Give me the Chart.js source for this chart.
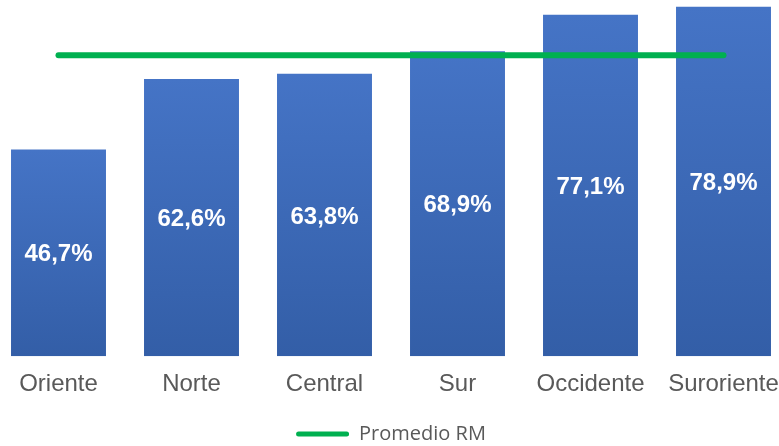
<!DOCTYPE html>
<html>
<head>
<meta charset="utf-8">
<script src="https://cdn.jsdelivr.net/npm/chart.js@4"></script>
<style>
  html, body { margin: 0; padding: 0; background: #fff; overflow: hidden; }
  #wrap { position: absolute; left: -8px; top: 0; width: 798px; height: 456px; }
</style>
</head>
<body>
<div id="wrap"><canvas id="my-chart"></canvas></div>
<script>
'use strict';

// ******** DATA *******
let zonas = ['Oriente', 'Norte', 'Central', 'Sur', 'Occidente', 'Suroriente'];
let porcentajes = [46.7, 62.6, 63.8, 68.9, 77.1, 78.9];
let promedioRM = [68.0, 68.0, 68.0, 68.0, 68.0, 68.0];

let ctx = document.getElementById('my-chart');

// gradient for each bar, lighter on top
function barGradient(context) {
  let chart = context.chart;
  if (!chart.chartArea) return '#4472C4';
  let y = chart.scales.y;
  let top = y.getPixelForValue(context.raw);
  let bottom = y.getPixelForValue(0);
  let g = chart.ctx.createLinearGradient(0, top, 0, bottom);
  g.addColorStop(0, '#4574C6');
  g.addColorStop(1, '#335EA7');
  return g;
}

// white labels in the middle of each bar
let barLabels = {
  id: 'barLabels',
  afterDatasetsDraw(chart) {
    let meta = chart.getDatasetMeta(1);
    let c = chart.ctx;
    c.save();
    c.fillStyle = '#ffffff';
    c.font = 'bold 24px "Liberation Sans", Arial, sans-serif';
    c.textAlign = 'center';
    c.textBaseline = 'middle';
    meta.data.forEach(function (bar, i) {
      let txt = porcentajes[i].toFixed(1).replace('.', ',') + '%';
      c.fillText(txt, bar.x, (bar.y + bar.base) / 2 + 2);
    });
    c.restore();
  }
};

let chartObject = {
  type: 'bar',
  data: {
    labels: zonas,
    datasets: [{
      type: 'line',
      label: 'Promedio RM',
      data: promedioRM,
      borderColor: '#00B050',
      backgroundColor: '#00B050',
      borderWidth: 6,
      borderCapStyle: 'round',
      pointRadius: 0,
      order: 0
    },
    {
      label: 'Porcentaje',
      data: porcentajes,
      backgroundColor: barGradient,
      categoryPercentage: 1,
      barPercentage: 0.714,
      order: 1
    }]
  },
  options: {
    responsive: true,
    maintainAspectRatio: false,
    animation: false,
    layout: { padding: { top: 2, left: 0, right: 0, bottom: 2 } },
    plugins: {
      tooltip: { enabled: false },
      legend: {
        position: 'bottom',
        labels: {
          generateLabels: function (chart) {
            let items = Chart.defaults.plugins.legend.labels.generateLabels(chart);
            items.forEach(function (it) { it.lineWidth = 0; it.strokeStyle = 'rgba(0,0,0,0)'; });
            return items.filter(function (it) { return it.text === 'Promedio RM'; });
          },
          boxWidth: 53,
          boxHeight: 5,
          useBorderRadius: true,
          borderRadius: 2.5,
          padding: 19,
          color: '#595959',
          font: { family: '"Open Sans", sans-serif', size: 20 }
        }
      }
    },
    scales: {
      x: {
        grid: { display: false },
        border: { display: false },
        ticks: {
          color: '#595959',
          padding: 6,
          font: { family: '"Liberation Sans", Arial, sans-serif', size: 24 }
        }
      },
      y: {
        display: false,
        min: 0,
        max: 80
      }
    }
  },
  plugins: [barLabels]
};

const myChart = new Chart(ctx, chartObject);
</script>
</body>
</html>
